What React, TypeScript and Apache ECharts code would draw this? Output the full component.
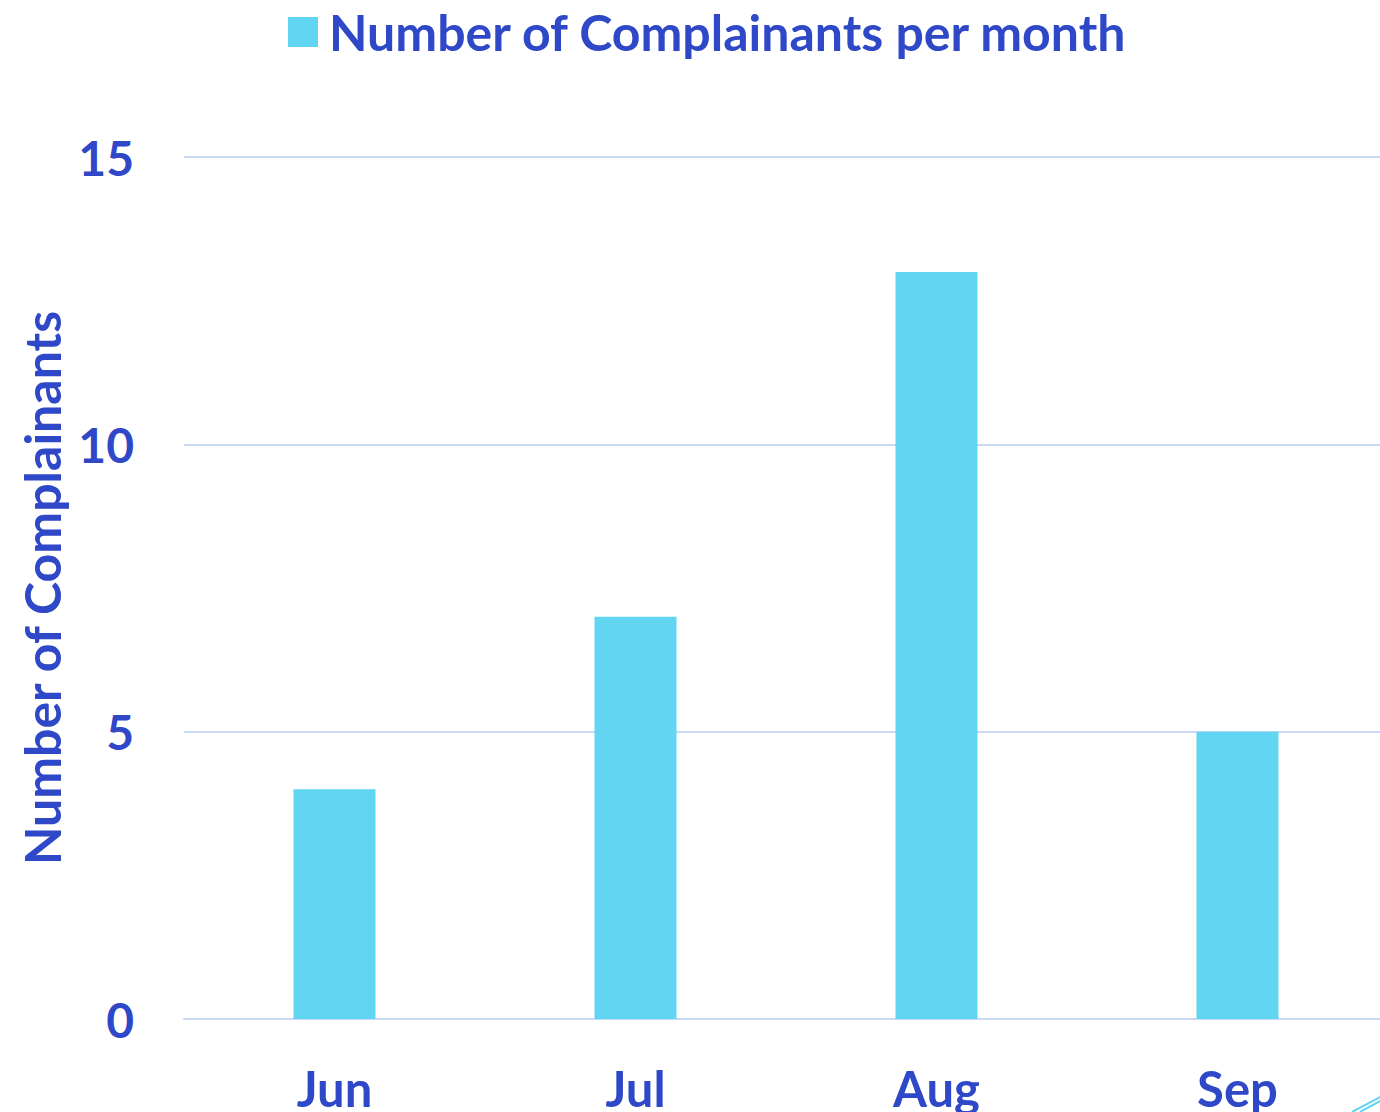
import React, { useEffect, useRef } from "react";
import * as echarts from "echarts";

const categories = ["Jun", "Jul", "Aug", "Sep"];
const complainants = [4, 7, 13, 5];
const yTicks = [0, 5, 10, 15];
const seriesName = "Number of Complainants per month";
const yAxisTitle = "Number of Complainants";

const BLUE = "#2E48C8";
const BAR = "#61D5F1";
const GRID = "#C9D9F6";
const FONT = "Lato";

export default function App() {
  const ref = useRef<HTMLDivElement>(null);
  useEffect(() => {
    if (!ref.current) return;
    const chart = echarts.init(ref.current, undefined, { renderer: "svg" });
    chart.setOption({
      animation: false,
      backgroundColor: "#ffffff",
      legend: {
        top: 2,
        left: 283,
        itemWidth: 30,
        itemHeight: 30,
        itemGap: 10,
        icon: "rect",
        data: [seriesName],
        textStyle: { color: BLUE, fontSize: 50, fontWeight: "bold", fontFamily: FONT, padding: [0, 0, 0, 6] },
      },
      grid: { left: 184, top: 157, width: 1204, bottom: 93, containLabel: false },
      xAxis: {
        type: "category",
        data: categories,
        axisLine: { show: true, lineStyle: { color: GRID, width: 2 } },
        axisTick: { show: false },
        axisLabel: { color: BLUE, fontSize: 49, fontWeight: "bold", fontFamily: FONT, margin: 44 },
      },
      yAxis: {
        type: "value",
        min: yTicks[0],
        max: yTicks[yTicks.length - 1],
        interval: 5,
        name: yAxisTitle,
        nameLocation: "middle",
        nameGap: 117,
        nameTextStyle: { color: BLUE, fontSize: 50, fontWeight: "bold", fontFamily: FONT },
        axisLine: { show: false },
        axisTick: { show: false },
        axisLabel: { color: BLUE, fontSize: 48, fontWeight: "bold", fontFamily: FONT, margin: 50 },
        splitLine: { lineStyle: { color: GRID, width: 2 } },
      },
      series: [
        {
          name: seriesName,
          type: "bar",
          data: complainants,
          barWidth: 82,
          itemStyle: { color: BAR },
        },
      ],
      graphic: [
        { type: "line", shape: { x1: 1352, y1: 1112, x2: 1382, y2: 1096 }, style: { stroke: BAR, lineWidth: 2 } },
        { type: "line", shape: { x1: 1360, y1: 1112, x2: 1382, y2: 1100 }, style: { stroke: BAR, lineWidth: 2 } },
      ],
    });
    return () => chart.dispose();
  }, []);
  return (
    <div style={{ position: "absolute", left: 0, top: 0, width: 1380, height: 1112, overflow: "hidden" }}>
      <div ref={ref} style={{ position: "absolute", left: 0, top: 0, width: 1390, height: 1112 }} />
    </div>
  );
}
